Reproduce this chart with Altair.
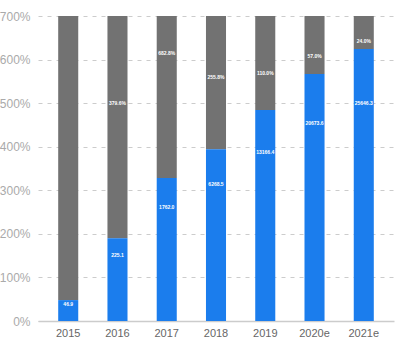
import altair as alt
import pandas as pd

years = ["2015", "2016", "2017", "2018", "2019", "2020e", "2021e"]
blue_height = [48, 190, 328, 394, 484, 567, 624]          # % on axis
total_height = [700, 700, 700, 700, 700, 700, 700]
revenue_labels = ["46.9", "225.1", "1762.0", "6268.5", "13166.4", "20673.6", "25646.3"]
growth_labels = ["", "379.6%", "682.8%", "255.8%", "110.0%", "57.0%", "24.0%"]
growth_label_y = [None, 500, 615, 560, 569, 608, 642]

df = pd.DataFrame({
    "year": years,
    "blue": blue_height,
    "total": total_height,
    "rev": revenue_labels,
    "growth": growth_labels,
    "gy": growth_label_y,
})
df["ry"] = df["blue"] * 0.8

xenc = alt.X("year:N", sort=years, title=None,
             scale=alt.Scale(paddingInner=0.593, paddingOuter=0.41),
             axis=alt.Axis(labelAngle=0, labelColor="#666666", labelFontSize=11,
                           labelFont="Liberation Sans", ticks=False,
                           domainColor="#cccccc", domainWidth=1.5, labelPadding=6,
                           grid=False))
yscale = alt.Scale(domain=[0, 700], nice=False)
yaxis = alt.Axis(values=[0, 100, 200, 300, 400, 500, 600, 700],
                 labelExpr="datum.value + '%'", labelColor="#aaaaaa",
                 labelFontSize=12, labelFont="Liberation Sans", ticks=False,
                 domain=False, labelPadding=8, gridColor="#cccccc",
                 gridDash=[4, 5], gridWidth=1)

base = alt.Chart(df)

gray = base.mark_bar(color="#727272").encode(
    x=xenc,
    y=alt.Y("blue:Q", scale=yscale, axis=yaxis, title=None),
    y2="total:Q",
)
blue = base.mark_bar(color="#1b7ded").encode(
    x=alt.X("year:N", sort=years),
    y=alt.Y("blue:Q", scale=yscale),
    y2=alt.datum(0),
)
rev_text = base.mark_text(color="white", fontSize=5, fontWeight="bold",
                          font="Liberation Sans").encode(
    x=alt.X("year:N", sort=years),
    y=alt.Y("ry:Q", scale=yscale),
    text="rev:N",
)
growth_text = base.transform_filter("datum.gy != null").mark_text(
    color="white", fontSize=5, fontWeight="bold", font="Liberation Sans").encode(
    x=alt.X("year:N", sort=years),
    y=alt.Y("gy:Q", scale=yscale),
    text="growth:N",
)

chart = alt.layer(gray, blue, rev_text, growth_text).properties(
    width=356, height=305,
    autosize=alt.AutoSizeParams(type="none"),
    padding={"left": 38, "top": 16, "right": 1, "bottom": 31},
).configure_view(stroke=None)

chart.save("out.html", embed_options={"renderer": "svg", "actions": False})
